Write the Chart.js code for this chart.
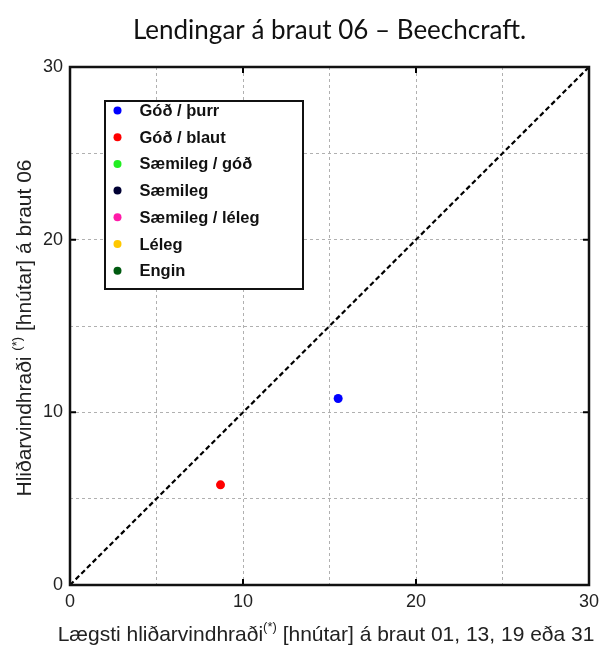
<!DOCTYPE html>
<html><head><meta charset="utf-8">
<script src="https://cdn.jsdelivr.net/npm/chart.js@4"></script>
<style>html,body{margin:0;padding:0;background:#fff}#wrap{width:606px;height:646px}</style>
</head><body><div id="wrap"><canvas id="c" width="606" height="646"></canvas></div>
<script>
const seriesLabels = ["Góð / þurr","Góð / blaut","Sæmileg / góð","Sæmileg","Sæmileg / léleg","Léleg","Engin"];
const seriesColors = ["#0000ff","#ff0000","#22ee22","#000033","#ff1aa8","#ffc800","#005a10"];
const godThurrX = [15.5], godThurrY = [10.8];
const godBlautX = [8.7], godBlautY = [5.8];
const emptyX = [], emptyY = [];
const diagX = [0, 30], diagY = [0, 30];
const tickValues = [0, 10, 20, 30];
const titleText = "Lendingar á braut 06 – Beechcraft.";
const xTitle = ["Lægsti hliðarvindhraði", "(*)", " [hnútar] á braut 01, 13, 19 eða 31"];
const yTitle = ["Hliðarvindhraði ", "(*)", " [hnútar] á braut 06"];

function pts(xs, ys){ return xs.map((x,i)=>({x:x,y:ys[i]})); }
const seriesData = [pts(godThurrX,godThurrY), pts(godBlautX,godBlautY), pts(emptyX,emptyY), pts(emptyX,emptyY), pts(emptyX,emptyY), pts(emptyX,emptyY), pts(emptyX,emptyY)];

const datasets = seriesLabels.map((l,i)=>({
  type:'scatter', label:l, data:seriesData[i], backgroundColor:seriesColors[i], borderColor:seriesColors[i],
  pointRadius:4.5, pointBorderWidth:0, showLine:false
}));
datasets.push({type:'line', label:'diag', data:pts(diagX,diagY), borderColor:'#000', borderWidth:2.2, borderDash:[5,3], pointRadius:0, fill:false, order:10});

const AF = "'Liberation Sans', Arial, sans-serif";

const deco = {
  id:'deco',
  afterDraw(chart){
    const ctx = chart.ctx, a = chart.chartArea, xs = chart.scales.x, ys = chart.scales.y;
    ctx.save();
    ctx.setLineDash([]);
    ctx.strokeStyle='#000'; ctx.lineWidth=2;
    [10,20].forEach(v=>{
      const px = xs.getPixelForValue(v), py = ys.getPixelForValue(v);
      ctx.beginPath();
      ctx.moveTo(px,a.bottom); ctx.lineTo(px,a.bottom-6);
      ctx.moveTo(px,a.top); ctx.lineTo(px,a.top+6);
      ctx.moveTo(a.left,py); ctx.lineTo(a.left+6,py);
      ctx.moveTo(a.right,py); ctx.lineTo(a.right-6,py);
      ctx.stroke();
    });
    ctx.lineWidth=2.5; ctx.strokeStyle='#111';
    ctx.strokeRect(a.left,a.top,a.right-a.left,a.bottom-a.top);
    const lx=105, ly=101, lw=198, lh=188;
    ctx.fillStyle='#fff'; ctx.fillRect(lx,ly,lw,lh);
    ctx.lineWidth=2; ctx.strokeStyle='#111'; ctx.strokeRect(lx,ly,lw,lh);
    ctx.font="bold 16.5px "+AF; ctx.textBaseline='middle'; ctx.textAlign='left';
    chart.data.datasets.forEach((d,i)=>{
      if(d.label==='diag') return;
      const y = 110.5 + i*26.7;
      ctx.fillStyle=d.backgroundColor; ctx.beginPath(); ctx.arc(117.5,y,4,0,Math.PI*2); ctx.fill();
      ctx.fillStyle='#111'; ctx.fillText(d.label, 139.5, y+1);
    });
    function drawSup(parts, cx, cy){
      const big="21px "+AF, small="13px "+AF;
      ctx.font=big; const w0=ctx.measureText(parts[0]).width, w2=ctx.measureText(parts[2]).width;
      ctx.font=small; const w1=ctx.measureText(parts[1]).width;
      let x = cx-(w0+w1+w2)/2;
      ctx.textAlign='left'; ctx.textBaseline='alphabetic'; ctx.fillStyle='#222';
      ctx.font=big; ctx.fillText(parts[0],x,cy); x+=w0;
      ctx.font=small; ctx.fillText(parts[1],x,cy-10); x+=w1;
      ctx.font=big; ctx.fillText(parts[2],x,cy);
    }
    drawSup(xTitle, 326, 641);
    ctx.save(); ctx.translate(31,328); ctx.rotate(-Math.PI/2);
    drawSup(yTitle, 0, 0); ctx.restore();
    ctx.restore();
  }
};

new Chart(document.getElementById('c'), {
  data:{datasets:datasets},
  plugins:[deco],
  options:{
    responsive:false, animation:false,
    layout:{padding:{left:0,right:17,top:0,bottom:0}},
    plugins:{
      legend:{display:false}, tooltip:{enabled:false},
      title:{display:true, fullSize:false, text:titleText, font:{family:"Lato, 'Open Sans', sans-serif", size:26, weight:'normal', lineHeight:1.2}, color:'#111', padding:{top:15,bottom:20.8}}
    },
    scales:{
      x:{type:'linear', min:0, max:30,
        afterFit(s){ s.height=61; },
        afterBuildTicks(s){ s.ticks=[0,5,10,15,20,25,30].map(v=>({value:v})); },
        ticks:{callback:v=>tickValues.includes(v)?String(v):'', font:{family:AF,size:18}, color:'#222', padding:6, maxRotation:0, autoSkip:false},
        grid:{color:'#b0b0b0', lineWidth:1, drawTicks:false},
        border:{display:false, dash:[3,3]}
      },
      y:{type:'linear', min:0, max:30,
        afterFit(s){ s.width=70; },
        afterBuildTicks(s){ s.ticks=[0,5,10,15,20,25,30].map(v=>({value:v})); },
        ticks:{callback:v=>tickValues.includes(v)?String(v):'', font:{family:AF,size:18}, color:'#222', padding:7, autoSkip:false},
        grid:{color:'#b0b0b0', lineWidth:1, drawTicks:false},
        border:{display:false, dash:[3,3]}
      }
    }
  }
});
</script></body></html>
